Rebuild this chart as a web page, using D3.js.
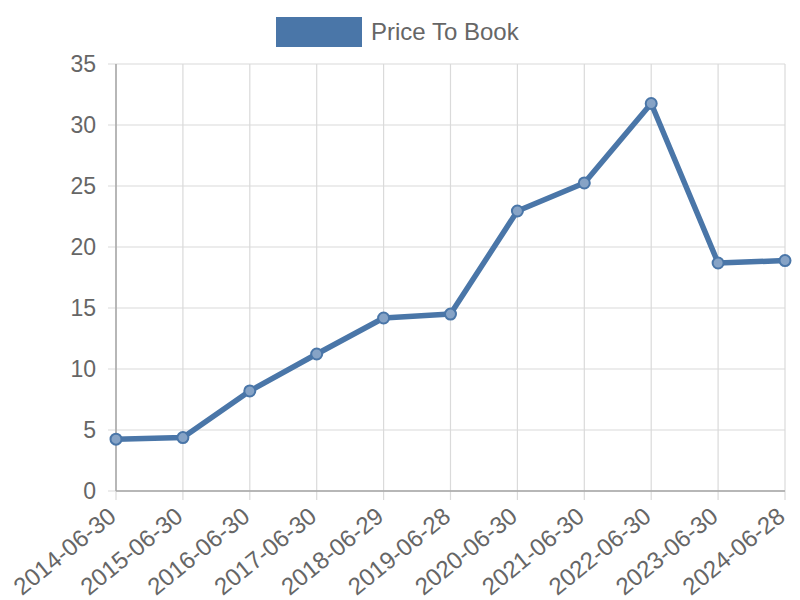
<!DOCTYPE html>
<html>
<head>
<meta charset="utf-8">
<script src="https://cdn.jsdelivr.net/npm/d3@7"></script>
<style>
  body { margin: 0; background: #fff; }
  text { font-family: "Liberation Sans", Arial, sans-serif; }
</style>
</head>
<body>
<div id="chart"></div>
<script>
var dates = ["2014-06-30", "2015-06-30", "2016-06-30", "2017-06-30", "2018-06-29",
    "2019-06-28", "2020-06-30", "2021-06-30", "2022-06-30", "2023-06-30", "2024-06-28"];
var priceToBook = [4.25, 4.38, 8.2, 11.23, 14.18, 14.5, 22.95, 25.25, 31.76, 18.69, 18.89];
var yTicks = [0, 5, 10, 15, 20, 25, 30, 35];

var lineColor = "#4a76a8";

// set the dimensions and margins of the graph
var margin = {top: 64, right: 15, bottom: 109, left: 116},
    width = 800 - margin.left - margin.right,
    height = 600 - margin.top - margin.bottom;

var svg = d3.select("#chart")
  .append("svg")
    .attr("width", 800)
    .attr("height", 600);

var g = svg.append("g")
    .attr("transform", "translate(" + margin.left + "," + margin.top + ")");

var x = d3.scalePoint()
    .domain(dates)
    .range([0, width]);

var y = d3.scaleLinear()
    .domain([0, 35])
    .range([height, 0]);

// grid lines
g.append("g")
  .selectAll("line")
  .data(dates)
  .enter().append("line")
    .attr("x1", function(d) { return x(d); })
    .attr("x2", function(d) { return x(d); })
    .attr("y1", 0)
    .attr("y2", height + 9)
    .attr("stroke", "#dadada")
    .attr("stroke-width", 1.2);

g.append("g")
  .selectAll("line")
  .data(yTicks)
  .enter().append("line")
    .attr("x1", -8)
    .attr("x2", width)
    .attr("y1", function(d) { return y(d); })
    .attr("y2", function(d) { return y(d); })
    .attr("stroke", "#dadada")
    .attr("stroke-width", 1.2);

// axis lines
g.append("line")
    .attr("x1", 0).attr("x2", 0)
    .attr("y1", 0).attr("y2", height)
    .attr("stroke", "#a6a6a6").attr("stroke-width", 1.5);
g.append("line")
    .attr("x1", 0).attr("x2", width)
    .attr("y1", height).attr("y2", height)
    .attr("stroke", "#a6a6a6").attr("stroke-width", 1.5);

// Y axis labels
var yAxis = g.append("g")
    .call(d3.axisLeft(y).tickValues(yTicks).tickSize(0).tickPadding(20));
yAxis.select(".domain").remove();
yAxis.selectAll("text")
    .attr("fill", "#666")
    .style("font-size", "23px")
    .style("font-family", "Liberation Sans, Arial, sans-serif");

// X axis labels
var xAxis = g.append("g")
    .attr("transform", "translate(0," + height + ")")
    .call(d3.axisBottom(x).tickSize(0));
xAxis.select(".domain").remove();
xAxis.selectAll("text")
    .attr("fill", "#666")
    .style("font-size", "24px")
    .style("font-family", "Liberation Sans, Arial, sans-serif")
    .style("text-anchor", "end")
    .attr("dx", null)
    .attr("dy", null)
    .attr("y", 0)
    .attr("transform", "translate(1,28) rotate(-39)");

// line
var line = d3.line()
    .x(function(d, i) { return x(dates[i]); })
    .y(function(d) { return y(d); });

g.append("path")
    .datum(priceToBook)
    .attr("fill", "none")
    .attr("stroke", lineColor)
    .attr("stroke-width", 5.5)
    .attr("stroke-linejoin", "round")
    .attr("d", line);

g.selectAll("circle")
    .data(priceToBook)
  .enter().append("circle")
    .attr("cx", function(d, i) { return x(dates[i]); })
    .attr("cy", function(d) { return y(d); })
    .attr("r", 5.5)
    .attr("fill", "#86a3c6")
    .attr("stroke", lineColor)
    .attr("stroke-width", 2);

// legend
var legend = svg.append("g");
legend.append("rect")
    .attr("x", 276)
    .attr("y", 17)
    .attr("width", 86)
    .attr("height", 30)
    .attr("fill", lineColor);
legend.append("text")
    .attr("x", 371)
    .attr("y", 40)
    .attr("fill", "#666")
    .style("font-size", "24px")
    .text("Price To Book");
</script>
</body>
</html>
